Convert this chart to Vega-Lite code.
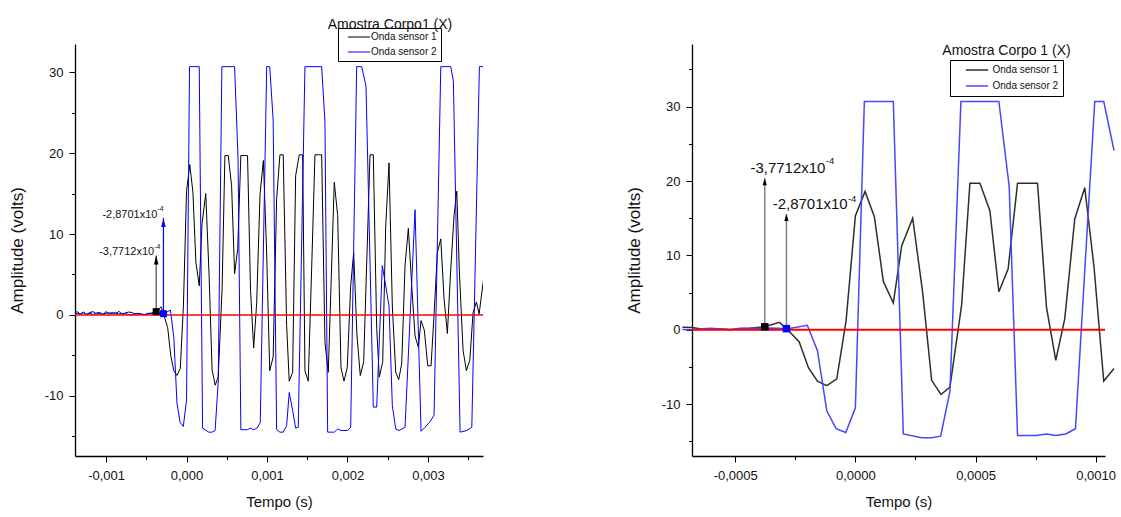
{
  "$schema": "https://vega.github.io/schema/vega-lite/v6.json",
  "background": "white",
  "padding": {"left": 8, "top": 17, "right": 4, "bottom": 2},
  "bounds": "flush",
  "spacing": 209,
  "datasets": {
    "wave": [
      {"s":"Onda sensor 1","t":-0.00144,"v":0.3},{"s":"Onda sensor 1","t":-0.0014,"v":0.2},{"s":"Onda sensor 1","t":-0.00136,"v":0.4},{"s":"Onda sensor 1","t":-0.00132,"v":0.1},{"s":"Onda sensor 1","t":-0.00128,"v":0.35},{"s":"Onda sensor 1","t":-0.00124,"v":0.05},{"s":"Onda sensor 1","t":-0.0012,"v":0.3},{"s":"Onda sensor 1","t":-0.00116,"v":0.4},{"s":"Onda sensor 1","t":-0.00112,"v":0.1},{"s":"Onda sensor 1","t":-0.00108,"v":0.2},{"s":"Onda sensor 1","t":-0.00104,"v":0.05},{"s":"Onda sensor 1","t":-0.001,"v":0.4},{"s":"Onda sensor 1","t":-0.00096,"v":0.15},{"s":"Onda sensor 1","t":-0.00092,"v":0.3},{"s":"Onda sensor 1","t":-0.00088,"v":0.1},{"s":"Onda sensor 1","t":-0.00084,"v":0.45},{"s":"Onda sensor 1","t":-0.0008,"v":0.05},{"s":"Onda sensor 1","t":-0.00076,"v":0.25},{"s":"Onda sensor 1","t":-0.00072,"v":0.35},{"s":"Onda sensor 1","t":-0.00068,"v":0.3},{"s":"Onda sensor 1","t":-0.00064,"v":0.1},{"s":"Onda sensor 1","t":-0.0006,"v":0.15},{"s":"Onda sensor 1","t":-0.00056,"v":0.1},{"s":"Onda sensor 1","t":-0.00052,"v":0.0},{"s":"Onda sensor 1","t":-0.00048,"v":0.15},{"s":"Onda sensor 1","t":-0.00044,"v":0.2},{"s":"Onda sensor 1","t":-0.00041,"v":0.3},{"s":"Onda sensor 1","t":-0.00037712,"v":0.4},{"s":"Onda sensor 1","t":-0.0003159,"v":1.0},{"s":"Onda sensor 1","t":-0.0002851,"v":0.1},{"s":"Onda sensor 1","t":-0.000234,"v":-1.6},{"s":"Onda sensor 1","t":-0.0001953,"v":-5.1},{"s":"Onda sensor 1","t":-0.0001579,"v":-6.9},{"s":"Onda sensor 1","t":-0.0001189,"v":-7.5},{"s":"Onda sensor 1","t":-0.0000773,"v":-6.6},{"s":"Onda sensor 1","t":-0.0000387,"v":1.2},{"s":"Onda sensor 1","t":0.0,"v":15.3},{"s":"Onda sensor 1","t":0.0000403,"v":18.6},{"s":"Onda sensor 1","t":0.000079,"v":15.2},{"s":"Onda sensor 1","t":0.0001164,"v":6.5},{"s":"Onda sensor 1","t":0.0001579,"v":3.6},{"s":"Onda sensor 1","t":0.0001929,"v":11.3},{"s":"Onda sensor 1","t":0.0002386,"v":15.0},{"s":"Onda sensor 1","t":0.0002801,"v":5.0},{"s":"Onda sensor 1","t":0.0003175,"v":-6.8},{"s":"Onda sensor 1","t":0.0003562,"v":-8.7},{"s":"Onda sensor 1","t":0.0003936,"v":-7.7},{"s":"Onda sensor 1","t":0.0004422,"v":3.3},{"s":"Onda sensor 1","t":0.0004767,"v":19.7},{"s":"Onda sensor 1","t":0.0005183,"v":19.7},{"s":"Onda sensor 1","t":0.0005599,"v":16.0},{"s":"Onda sensor 1","t":0.0005973,"v":5.1},{"s":"Onda sensor 1","t":0.0006359,"v":8.2},{"s":"Onda sensor 1","t":0.000675,"v":19.7},{"s":"Onda sensor 1","t":0.000717,"v":19.7},{"s":"Onda sensor 1","t":0.0007581,"v":19.7},{"s":"Onda sensor 1","t":0.0007955,"v":3.0},{"s":"Onda sensor 1","t":0.0008342,"v":-4.1},{"s":"Onda sensor 1","t":0.0008716,"v":1.5},{"s":"Onda sensor 1","t":0.0009131,"v":14.9},{"s":"Onda sensor 1","t":0.0009547,"v":19.1},{"s":"Onda sensor 1","t":0.0009934,"v":8.4},{"s":"Onda sensor 1","t":0.0010337,"v":-6.9},{"s":"Onda sensor 1","t":0.0010765,"v":-5.2},{"s":"Onda sensor 1","t":0.0011194,"v":14.3},{"s":"Onda sensor 1","t":0.0011605,"v":19.8},{"s":"Onda sensor 1","t":0.0012015,"v":19.8},{"s":"Onda sensor 1","t":0.0012438,"v":-1.3},{"s":"Onda sensor 1","t":0.0012761,"v":-8.2},{"s":"Onda sensor 1","t":0.0013184,"v":-7.1},{"s":"Onda sensor 1","t":0.0013557,"v":17.2},{"s":"Onda sensor 1","t":0.0014005,"v":19.8},{"s":"Onda sensor 1","t":0.0014428,"v":19.8},{"s":"Onda sensor 1","t":0.0014714,"v":-6.9},{"s":"Onda sensor 1","t":0.0015124,"v":-8.2},{"s":"Onda sensor 1","t":0.0015547,"v":5.7},{"s":"Onda sensor 1","t":0.0015958,"v":19.8},{"s":"Onda sensor 1","t":0.001637,"v":19.8},{"s":"Onda sensor 1","t":0.0016791,"v":19.8},{"s":"Onda sensor 1","t":0.0017202,"v":-3.4},{"s":"Onda sensor 1","t":0.0017612,"v":-7.1},{"s":"Onda sensor 1","t":0.0018358,"v":16.4},{"s":"Onda sensor 1","t":0.0018781,"v":12.3},{"s":"Onda sensor 1","t":0.0019192,"v":-6.5},{"s":"Onda sensor 1","t":0.0019565,"v":-8.2},{"s":"Onda sensor 1","t":0.0019975,"v":-6.5},{"s":"Onda sensor 1","t":0.0020398,"v":3.6},{"s":"Onda sensor 1","t":0.0020771,"v":7.7},{"s":"Onda sensor 1","t":0.0021182,"v":-2.6},{"s":"Onda sensor 1","t":0.0021592,"v":-7.5},{"s":"Onda sensor 1","t":0.0022015,"v":-5.8},{"s":"Onda sensor 1","t":0.0022799,"v":19.8},{"s":"Onda sensor 1","t":0.0023209,"v":19.8},{"s":"Onda sensor 1","t":0.0023632,"v":-1.7},{"s":"Onda sensor 1","t":0.0023955,"v":-7.7},{"s":"Onda sensor 1","t":0.0024378,"v":-5.8},{"s":"Onda sensor 1","t":0.0024751,"v":11.0},{"s":"Onda sensor 1","t":0.0025162,"v":18.8},{"s":"Onda sensor 1","t":0.0025572,"v":1.1},{"s":"Onda sensor 1","t":0.0025995,"v":-7.1},{"s":"Onda sensor 1","t":0.0026368,"v":-8.0},{"s":"Onda sensor 1","t":0.0026741,"v":-6.0},{"s":"Onda sensor 1","t":0.0027152,"v":6.1},{"s":"Onda sensor 1","t":0.0027562,"v":10.7},{"s":"Onda sensor 1","t":0.0027985,"v":3.6},{"s":"Onda sensor 1","t":0.0028396,"v":-2.6},{"s":"Onda sensor 1","t":0.0028806,"v":-4.0},{"s":"Onda sensor 1","t":0.0029142,"v":-0.7},{"s":"Onda sensor 1","t":0.0029552,"v":-1.9},{"s":"Onda sensor 1","t":0.0029975,"v":-6.3},{"s":"Onda sensor 1","t":0.0030386,"v":-6.3},{"s":"Onda sensor 1","t":0.0030796,"v":0.7},{"s":"Onda sensor 1","t":0.0031169,"v":7.7},{"s":"Onda sensor 1","t":0.0031592,"v":9.4},{"s":"Onda sensor 1","t":0.0032003,"v":2.0},{"s":"Onda sensor 1","t":0.0032413,"v":-2.3},{"s":"Onda sensor 1","t":0.0032836,"v":5.7},{"s":"Onda sensor 1","t":0.0033246,"v":12.3},{"s":"Onda sensor 1","t":0.0033583,"v":15.3},{"s":"Onda sensor 1","t":0.0033906,"v":5.3},{"s":"Onda sensor 1","t":0.0034366,"v":-4.4},{"s":"Onda sensor 1","t":0.0034777,"v":-6.9},{"s":"Onda sensor 1","t":0.00352,"v":-5.6},{"s":"Onda sensor 1","t":0.003561,"v":0.3},{"s":"Onda sensor 1","t":0.003602,"v":1.6},{"s":"Onda sensor 1","t":0.0036356,"v":0.1},{"s":"Onda sensor 1","t":0.0036853,"v":4.0},{"s":"Onda sensor 1","t":0.00372,"v":6.0},
      {"s":"Onda sensor 2","t":-0.00144,"v":0.1},{"s":"Onda sensor 2","t":-0.0014,"v":0.15},{"s":"Onda sensor 2","t":-0.00136,"v":0.2},{"s":"Onda sensor 2","t":-0.00132,"v":0.1},{"s":"Onda sensor 2","t":-0.00128,"v":0.25},{"s":"Onda sensor 2","t":-0.00124,"v":0.1},{"s":"Onda sensor 2","t":-0.0012,"v":0.2},{"s":"Onda sensor 2","t":-0.00116,"v":0.05},{"s":"Onda sensor 2","t":-0.00112,"v":0.25},{"s":"Onda sensor 2","t":-0.00108,"v":0.3},{"s":"Onda sensor 2","t":-0.00104,"v":0.1},{"s":"Onda sensor 2","t":-0.001,"v":0.2},{"s":"Onda sensor 2","t":-0.00096,"v":0.25},{"s":"Onda sensor 2","t":-0.00092,"v":0.15},{"s":"Onda sensor 2","t":-0.00088,"v":0.3},{"s":"Onda sensor 2","t":-0.00084,"v":0.1},{"s":"Onda sensor 2","t":-0.0008,"v":0.2},{"s":"Onda sensor 2","t":-0.00076,"v":0.15},{"s":"Onda sensor 2","t":-0.00072,"v":0.05},{"s":"Onda sensor 2","t":-0.00068,"v":0.0},{"s":"Onda sensor 2","t":-0.00064,"v":0.15},{"s":"Onda sensor 2","t":-0.0006,"v":0.2},{"s":"Onda sensor 2","t":-0.00056,"v":0.1},{"s":"Onda sensor 2","t":-0.00052,"v":0.05},{"s":"Onda sensor 2","t":-0.00048,"v":0.2},{"s":"Onda sensor 2","t":-0.00044,"v":0.2},{"s":"Onda sensor 2","t":-0.0004,"v":0.2},{"s":"Onda sensor 2","t":-0.00036,"v":0.25},{"s":"Onda sensor 2","t":-0.00032,"v":0.2},{"s":"Onda sensor 2","t":-0.00028701,"v":0.1},{"s":"Onda sensor 2","t":-0.0002,"v":0.6},{"s":"Onda sensor 2","t":-0.0001579,"v":-2.8},{"s":"Onda sensor 2","t":-0.0001189,"v":-10.9},{"s":"Onda sensor 2","t":-0.0000802,"v":-13.3},{"s":"Onda sensor 2","t":-0.0000399,"v":-13.8},{"s":"Onda sensor 2","t":0.0,"v":-10.5},{"s":"Onda sensor 2","t":0.0000374,"v":30.7},{"s":"Onda sensor 2","t":0.0001579,"v":30.7},{"s":"Onda sensor 2","t":0.0001995,"v":-14.0},{"s":"Onda sensor 2","t":0.000276,"v":-14.5},{"s":"Onda sensor 2","t":0.0003175,"v":-14.5},{"s":"Onda sensor 2","t":0.0003549,"v":-14.3},{"s":"Onda sensor 2","t":0.0003936,"v":-8.3},{"s":"Onda sensor 2","t":0.0004393,"v":30.7},{"s":"Onda sensor 2","t":0.0005973,"v":30.7},{"s":"Onda sensor 2","t":0.0006401,"v":19.3},{"s":"Onda sensor 2","t":0.000675,"v":-14.2},{"s":"Onda sensor 2","t":0.000754,"v":-14.2},{"s":"Onda sensor 2","t":0.0007955,"v":-14.0},{"s":"Onda sensor 2","t":0.0008342,"v":-14.2},{"s":"Onda sensor 2","t":0.0008757,"v":-14.0},{"s":"Onda sensor 2","t":0.000916,"v":-13.3},{"s":"Onda sensor 2","t":0.0009963,"v":30.7},{"s":"Onda sensor 2","t":0.0010337,"v":30.7},{"s":"Onda sensor 2","t":0.0010765,"v":24.1},{"s":"Onda sensor 2","t":0.0011194,"v":-14.2},{"s":"Onda sensor 2","t":0.0011605,"v":-14.5},{"s":"Onda sensor 2","t":0.0012015,"v":-14.5},{"s":"Onda sensor 2","t":0.0012438,"v":-13.7},{"s":"Onda sensor 2","t":0.0012761,"v":-9.6},{"s":"Onda sensor 2","t":0.0013184,"v":-11.8},{"s":"Onda sensor 2","t":0.0013557,"v":-14.0},{"s":"Onda sensor 2","t":0.0013881,"v":-13.9},{"s":"Onda sensor 2","t":0.0014714,"v":30.7},{"s":"Onda sensor 2","t":0.0016791,"v":30.7},{"s":"Onda sensor 2","t":0.0017202,"v":23.8},{"s":"Onda sensor 2","t":0.0017537,"v":-14.5},{"s":"Onda sensor 2","t":0.0018358,"v":-14.5},{"s":"Onda sensor 2","t":0.0018781,"v":-14.1},{"s":"Onda sensor 2","t":0.0019192,"v":-14.3},{"s":"Onda sensor 2","t":0.0020025,"v":-14.3},{"s":"Onda sensor 2","t":0.0020398,"v":-13.9},{"s":"Onda sensor 2","t":0.0021144,"v":30.7},{"s":"Onda sensor 2","t":0.0021766,"v":30.7},{"s":"Onda sensor 2","t":0.0022301,"v":28.3},{"s":"Onda sensor 2","t":0.0023209,"v":-11.4},{"s":"Onda sensor 2","t":0.0023632,"v":-11.4},{"s":"Onda sensor 2","t":0.0024328,"v":6.1},{"s":"Onda sensor 2","t":0.0025162,"v":1.1},{"s":"Onda sensor 2","t":0.0025572,"v":-11.2},{"s":"Onda sensor 2","t":0.0025995,"v":-14.1},{"s":"Onda sensor 2","t":0.0026405,"v":-14.3},{"s":"Onda sensor 2","t":0.0027152,"v":-13.9},{"s":"Onda sensor 2","t":0.0028396,"v":13.0},{"s":"Onda sensor 2","t":0.0029142,"v":-14.4},{"s":"Onda sensor 2","t":0.0029639,"v":-13.9},{"s":"Onda sensor 2","t":0.0030261,"v":-13.2},{"s":"Onda sensor 2","t":0.0030759,"v":-12.4},{"s":"Onda sensor 2","t":0.0031592,"v":30.7},{"s":"Onda sensor 2","t":0.0032836,"v":30.7},{"s":"Onda sensor 2","t":0.0033159,"v":28.9},{"s":"Onda sensor 2","t":0.0033993,"v":-14.5},{"s":"Onda sensor 2","t":0.0034826,"v":-14.3},{"s":"Onda sensor 2","t":0.0035448,"v":-13.9},{"s":"Onda sensor 2","t":0.0036393,"v":30.7},{"s":"Onda sensor 2","t":0.0036853,"v":30.7},{"s":"Onda sensor 2","t":0.00372,"v":30.7}
    ],
    "mk": [
      {"s":"Onda sensor 1","t":-0.00037712,"v":0.4,"tipL":7.33,"tipR":20.38,"label":"-3,7712x10","sup":"-4"},
      {"s":"Onda sensor 2","t":-0.00028701,"v":0.15,"tipL":11.99,"tipR":15.58,"label":"-2,8701x10","sup":"-4"}
    ]
  },
  "hconcat": [
    {
      "width": 408,
      "height": 412,
      "title": {"text": "Amostra Corpo1 (X)", "anchor": "middle", "frame": "group", "dx": 111, "offset": -15, "baseline": "alphabetic", "font": "Liberation Sans", "fontSize": 14, "fontWeight": "normal", "color": "#111"},
      "resolve": {"axis": {"x": "independent", "y": "independent"}},
      "layer": [
        {
          "data": {"name": "wave"},
          "mark": {"type": "line", "strokeWidth": 1, "clip": true},
          "encoding": {
            "x": {"field": "t", "type": "quantitative", "scale": {"domain": [-0.001386, 0.003684], "nice": false, "zero": false},
                  "axis": {"orient": "bottom", "values": [-0.001, 0, 0.001, 0.002, 0.003], "labelExpr": "(datum.value < -1e-9 ? '-' : '') + replace(format(abs(datum.value), '.3f'), '.', ',')", "title": "Tempo (s)", "titleFontSize": 15, "tickSize": 6, "labelPadding": 7, "titlePadding": 12}},
            "y": {"field": "v", "type": "quantitative", "scale": {"domain": [-17.45, 33.5], "nice": false, "zero": false},
                  "axis": {"orient": "left", "values": [-10, 0, 10, 20, 30], "labelExpr": "(datum.value < 0 ? '-' : '') + format(abs(datum.value), 'd')", "title": "Amplitude (volts)", "titleFontSize": 17, "tickSize": 6, "labelPadding": 6, "titlePadding": 18}},
            "color": {"field": "s", "type": "nominal", "scale": {"domain": ["Onda sensor 1", "Onda sensor 2"], "range": ["#000000", "#0000ff"]},
                      "legend": {"orient": "none", "legendX": 263, "legendY": -16, "title": null, "symbolType": "M-2.5,0L2.5,0", "symbolSize": 80, "symbolStrokeWidth": 1, "symbolOffset": 12, "labelOffset": 7, "labelFont": "Liberation Sans", "labelFontSize": 10, "labelColor": "#111", "strokeColor": "black", "fillColor": "white", "padding": 4, "rowPadding": 5}}
          }
        },
        {
          "data": {"values": [{}]},
          "mark": {"type": "rule", "color": "#ff0000", "strokeWidth": 1.5},
          "encoding": {"y": {"datum": 0, "type": "quantitative", "axis": null}}
        },
        {
          "data": {"name": "mk"},
          "mark": {"type": "rule", "strokeWidth": 1.2},
          "encoding": {
            "x": {"field": "t", "type": "quantitative", "axis": null},
            "y": {"field": "v", "type": "quantitative", "axis": null},
            "y2": {"field": "tipL"},
            "stroke": {"field": "s", "type": "nominal", "scale": {"domain": ["Onda sensor 1", "Onda sensor 2"], "range": ["#444444", "#0000ff"]}, "legend": null}
          }
        },
        {
          "data": {"name": "mk"},
          "mark": {"type": "point", "shape": "M0,0L0.25,1L-0.25,1Z", "filled": true, "opacity": 1, "size": 324},
          "encoding": {
            "x": {"field": "t", "type": "quantitative", "axis": null},
            "y": {"field": "tipL", "type": "quantitative", "axis": null},
            "color": {"field": "s", "type": "nominal"}
          }
        },
        {
          "data": {"name": "mk"},
          "mark": {"type": "point", "shape": "square", "filled": true, "opacity": 1, "size": 49},
          "encoding": {
            "x": {"field": "t", "type": "quantitative", "axis": {"orient": "bottom", "values": [-0.0005, 0.0005, 0.0015, 0.0025, 0.0035], "labels": false, "domain": false, "tickSize": 3.5, "title": null}},
            "y": {"field": "v", "type": "quantitative", "axis": {"orient": "left", "values": [-15, -5, 5, 15, 25], "labels": false, "domain": false, "tickSize": 3.5, "title": null}},
            "color": {"field": "s", "type": "nominal"}
          }
        },
        {
          "data": {"name": "mk"},
          "transform": [{"filter": "datum.s == 'Onda sensor 1'"}],
          "mark": {"type": "text", "align": "right", "baseline": "alphabetic", "dx": -2, "dy": -0.7, "font": "Liberation Sans", "fontSize": 11, "color": "#111"},
          "encoding": {"x": {"field": "t", "type": "quantitative", "axis": null}, "y": {"field": "tipL", "type": "quantitative", "axis": null}, "text": {"field": "label"}}
        },
        {
          "data": {"name": "mk"},
          "transform": [{"filter": "datum.s == 'Onda sensor 1'"}],
          "mark": {"type": "text", "align": "left", "baseline": "alphabetic", "dx": -2, "dy": -6.7, "font": "Liberation Sans", "fontSize": 7, "color": "#111"},
          "encoding": {"x": {"field": "t", "type": "quantitative", "axis": null}, "y": {"field": "tipL", "type": "quantitative", "axis": null}, "text": {"field": "sup"}}
        },
        {
          "data": {"name": "mk"},
          "transform": [{"filter": "datum.s == 'Onda sensor 2'"}],
          "mark": {"type": "text", "align": "right", "baseline": "alphabetic", "dx": -6, "dy": 0.3, "font": "Liberation Sans", "fontSize": 11, "color": "#111"},
          "encoding": {"x": {"field": "t", "type": "quantitative", "axis": null}, "y": {"field": "tipL", "type": "quantitative", "axis": null}, "text": {"field": "label"}}
        },
        {
          "data": {"name": "mk"},
          "transform": [{"filter": "datum.s == 'Onda sensor 2'"}],
          "mark": {"type": "text", "align": "left", "baseline": "alphabetic", "dx": -6, "dy": -6.7, "font": "Liberation Sans", "fontSize": 7, "color": "#111"},
          "encoding": {"x": {"field": "t", "type": "quantitative", "axis": null}, "y": {"field": "tipL", "type": "quantitative", "axis": null}, "text": {"field": "sup"}}
        }
      ]
    },
    {
      "width": 413,
      "height": 412,
      "title": {"text": "Amostra Corpo 1 (X)", "anchor": "middle", "frame": "group", "dx": 108, "offset": -24.5, "baseline": "alphabetic", "font": "Liberation Sans", "fontSize": 14, "fontWeight": "normal", "color": "#111"},
      "resolve": {"axis": {"x": "independent", "y": "independent"}},
      "layer": [
        {
          "data": {"name": "wave"},
          "transform": [{"filter": "datum.t >= -0.00072 && datum.t <= 0.00108"}],
          "mark": {"type": "line", "strokeWidth": 1.5, "clip": false},
          "encoding": {
            "x": {"field": "t", "type": "quantitative", "scale": {"domain": [-0.00068, 0.001039], "nice": false, "zero": false},
                  "axis": {"orient": "bottom", "values": [-0.0005, 0, 0.0005, 0.001], "labelExpr": "(datum.value < -1e-9 ? '-' : '') + replace(format(abs(datum.value), '.4f'), '.', ',')", "title": "Tempo (s)", "titleFontSize": 15, "tickSize": 6, "labelPadding": 7, "titlePadding": 12}},
            "y": {"field": "v", "type": "quantitative", "scale": {"domain": [-16.97, 38.42], "nice": false, "zero": false},
                  "axis": {"orient": "left", "values": [-10, 0, 10, 20, 30], "labelExpr": "(datum.value < 0 ? '-' : '') + format(abs(datum.value), 'd')", "title": "Amplitude (volts)", "titleFontSize": 17, "tickSize": 6, "labelPadding": 6, "titlePadding": 18}},
            "color": {"field": "s", "type": "nominal", "scale": {"domain": ["Onda sensor 1", "Onda sensor 2"], "range": ["#2e2e2e", "#4646ff"]},
                      "legend": {"orient": "none", "legendX": 258, "legendY": 16, "title": null, "symbolType": "M-2.5,0L2.5,0", "symbolSize": 80, "symbolStrokeWidth": 1.5, "symbolOffset": 17, "labelOffset": 10, "labelFont": "Liberation Sans", "labelFontSize": 10, "labelColor": "#111", "strokeColor": "black", "fillColor": "white", "padding": 4.5, "rowPadding": 5}}
          }
        },
        {
          "data": {"values": [{}]},
          "mark": {"type": "rule", "color": "#ff0000", "strokeWidth": 2},
          "encoding": {"y": {"datum": 0, "type": "quantitative", "axis": null}}
        },
        {
          "data": {"name": "mk"},
          "mark": {"type": "rule", "strokeWidth": 1.5, "color": "#808080"},
          "encoding": {
            "x": {"field": "t", "type": "quantitative", "axis": null},
            "y": {"field": "v", "type": "quantitative", "axis": null},
            "y2": {"field": "tipR"}
          }
        },
        {
          "data": {"name": "mk"},
          "mark": {"type": "point", "shape": "M0,0L0.3,1L-0.3,1Z", "filled": true, "opacity": 1, "size": 196, "color": "#000000"},
          "encoding": {
            "x": {"field": "t", "type": "quantitative", "axis": null},
            "y": {"field": "tipR", "type": "quantitative", "axis": null}
          }
        },
        {
          "data": {"name": "mk"},
          "mark": {"type": "point", "shape": "square", "filled": true, "opacity": 1, "size": 56},
          "encoding": {
            "x": {"field": "t", "type": "quantitative", "axis": {"orient": "bottom", "values": [-0.00025, 0.00025, 0.00075], "labels": false, "domain": false, "tickSize": 3.5, "title": null}},
            "y": {"field": "v", "type": "quantitative", "axis": {"orient": "left", "values": [-15, -5, 5, 15, 25, 35], "labels": false, "domain": false, "tickSize": 3.5, "title": null}},
            "fill": {"field": "s", "type": "nominal", "scale": {"domain": ["Onda sensor 1", "Onda sensor 2"], "range": ["#000000", "#0000ff"]}, "legend": null}
          }
        },
        {
          "data": {"name": "mk"},
          "transform": [{"filter": "datum.s == 'Onda sensor 1'"}],
          "mark": {"type": "text", "align": "right", "baseline": "alphabetic", "dx": 60.7, "dy": -5.3, "font": "Liberation Sans", "fontSize": 15, "color": "#111"},
          "encoding": {"x": {"field": "t", "type": "quantitative", "axis": null}, "y": {"field": "tipR", "type": "quantitative", "axis": null}, "text": {"field": "label"}}
        },
        {
          "data": {"name": "mk"},
          "transform": [{"filter": "datum.s == 'Onda sensor 1'"}],
          "mark": {"type": "text", "align": "left", "baseline": "alphabetic", "dx": 61, "dy": -14.3, "font": "Liberation Sans", "fontSize": 9.5, "color": "#111"},
          "encoding": {"x": {"field": "t", "type": "quantitative", "axis": null}, "y": {"field": "tipR", "type": "quantitative", "axis": null}, "text": {"field": "sup"}}
        },
        {
          "data": {"name": "mk"},
          "transform": [{"filter": "datum.s == 'Onda sensor 2'"}],
          "mark": {"type": "text", "align": "right", "baseline": "alphabetic", "dx": 61.3, "dy": -5, "font": "Liberation Sans", "fontSize": 15, "color": "#111"},
          "encoding": {"x": {"field": "t", "type": "quantitative", "axis": null}, "y": {"field": "tipR", "type": "quantitative", "axis": null}, "text": {"field": "label"}}
        },
        {
          "data": {"name": "mk"},
          "transform": [{"filter": "datum.s == 'Onda sensor 2'"}],
          "mark": {"type": "text", "align": "left", "baseline": "alphabetic", "dx": 61.5, "dy": -12, "font": "Liberation Sans", "fontSize": 9.5, "color": "#111"},
          "encoding": {"x": {"field": "t", "type": "quantitative", "axis": null}, "y": {"field": "tipR", "type": "quantitative", "axis": null}, "text": {"field": "sup"}}
        }
      ]
    }
  ],
  "resolve": {"scale": {"color": "independent", "stroke": "independent", "fill": "independent"}, "legend": {"color": "independent"}},
  "config": {
    "view": {"stroke": null},
    "axis": {"grid": false, "domainColor": "#000000", "domainWidth": 1.3, "tickColor": "#000000", "tickWidth": 1, "labelColor": "#111111", "labelFont": "Liberation Sans", "labelFontSize": 13, "titleFont": "Liberation Sans", "titleFontWeight": "normal", "titleColor": "#111111", "labelFlush": false, "labelOverlap": false},
    "legend": {"symbolStrokeColor": null}
  }
}
